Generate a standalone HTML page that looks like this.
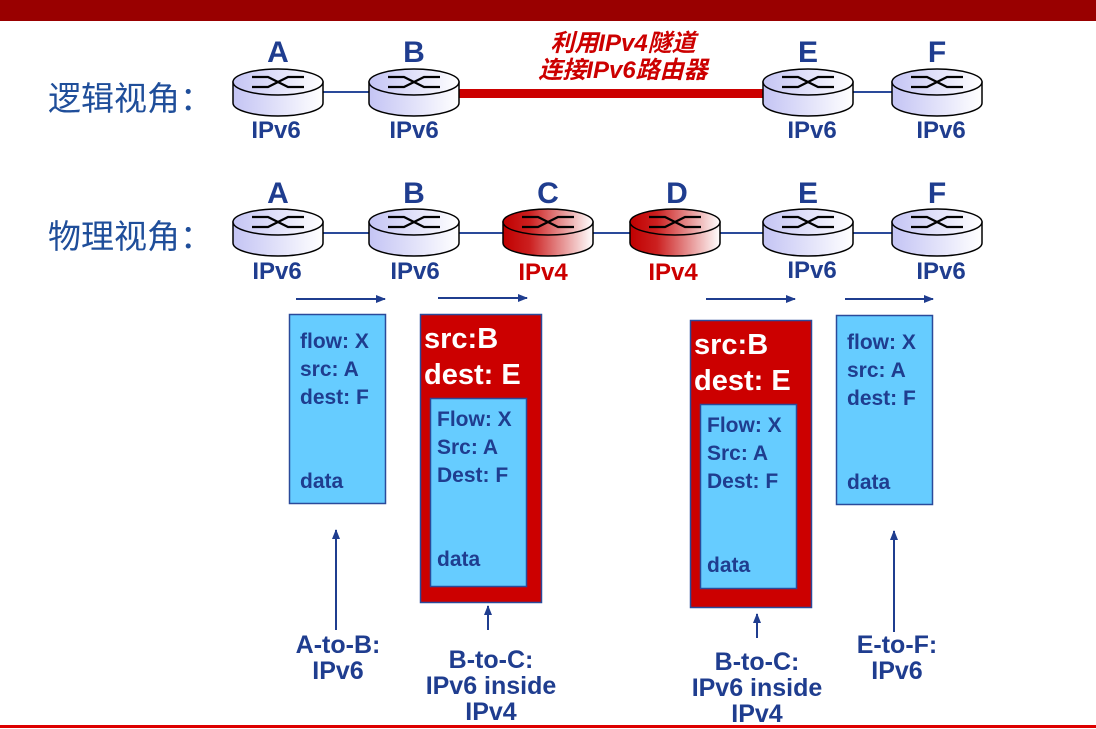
<!DOCTYPE html>
<html><head><meta charset="utf-8"><style>
html,body{margin:0;padding:0;background:#fff}
svg{display:block}
text{font-family:"Liberation Sans","Noto Sans CJK SC",sans-serif;font-weight:bold}
</style></head><body>
<svg width="1096" height="729" viewBox="0 0 1096 729" xmlns="http://www.w3.org/2000/svg">
<defs>
<linearGradient id="gb" x1="0" x2="1" y1="0" y2="0"><stop offset="0" stop-color="#c4c4f4"/><stop offset="1" stop-color="#ffffff"/></linearGradient>
<linearGradient id="gr" x1="0" x2="1" y1="0" y2="0"><stop offset="0" stop-color="#c00000"/><stop offset="0.3" stop-color="#cc2020"/><stop offset="1" stop-color="#ffffff"/></linearGradient>
<g id="xc" fill="none" stroke="#000" stroke-width="2.2"><path d="M-26,-5 H-10 L10,5 H26 M-26,5 H-10 L10,-5 H26"/></g>
<g id="rb"><path d="M-45,0 V21 A45 13 0 0 0 45,21 V0 Z" fill="url(#gb)" stroke="#000" stroke-width="1.5"/><ellipse cx="0" cy="0" rx="45" ry="13" fill="url(#gb)" stroke="#000" stroke-width="1.5"/><use href="#xc"/></g>
<g id="rr"><path d="M-45,0 V21 A45 13 0 0 0 45,21 V0 Z" fill="url(#gr)" stroke="#000" stroke-width="1.5"/><ellipse cx="0" cy="0" rx="45" ry="13" fill="url(#gr)" stroke="#000" stroke-width="1.5"/><use href="#xc"/></g>
<marker id="ah" markerWidth="10" markerHeight="8" refX="9" refY="4" orient="auto" markerUnits="userSpaceOnUse"><path d="M0,0 L10,4 L0,8 Z" fill="#1f3d8f"/></marker>
</defs>
<rect x="0" y="0" width="1096" height="21" fill="#990000"/>
<rect x="0" y="725" width="1096" height="3" fill="#dd0000"/>

<text x="48" y="110" font-size="33" fill="#1f4e9a" style="font-weight:normal">逻辑视角：</text>
<text x="48" y="248" font-size="33" fill="#1f4e9a" style="font-weight:normal">物理视角：</text>

<line x1="323" y1="92" x2="369" y2="92" stroke="#2a4a9a" stroke-width="2"/>
<rect x="459" y="89" width="305" height="9" fill="#cc0000"/>
<line x1="853" y1="92" x2="892" y2="92" stroke="#2a4a9a" stroke-width="2"/>
<use href="#rb" x="278" y="82"/>
<use href="#rb" x="414" y="82"/>
<use href="#rb" x="808" y="82"/>
<use href="#rb" x="937" y="82"/>
<g fill="#1f3d8f" font-size="30" text-anchor="middle">
<text x="278" y="62">A</text><text x="414" y="62">B</text><text x="808" y="62">E</text><text x="937" y="62">F</text>
</g>
<g fill="#1f3d8f" font-size="24" text-anchor="middle">
<text x="276" y="138">IPv6</text><text x="414" y="138">IPv6</text><text x="812" y="138">IPv6</text><text x="941" y="138">IPv6</text>
</g>
<g fill="#cc0000" font-size="24" text-anchor="middle" font-style="italic">
<text x="623" y="51">利用IPv4隧道</text><text x="623" y="78">连接IPv6路由器</text>
</g>

<g stroke="#2a4a9a" stroke-width="2">
<line x1="323" y1="233" x2="369" y2="233"/><line x1="459" y1="233" x2="503" y2="233"/>
<line x1="593" y1="233" x2="630" y2="233"/><line x1="720" y1="233" x2="763" y2="233"/>
<line x1="853" y1="233" x2="892" y2="233"/>
</g>
<use href="#rb" x="278" y="222"/>
<use href="#rb" x="414" y="222"/>
<use href="#rr" x="548" y="222"/>
<use href="#rr" x="675" y="222"/>
<use href="#rb" x="808" y="222"/>
<use href="#rb" x="937" y="222"/>
<g fill="#1f3d8f" font-size="30" text-anchor="middle">
<text x="278" y="203">A</text><text x="414" y="203">B</text><text x="548" y="203">C</text><text x="677" y="203">D</text><text x="808" y="203">E</text><text x="937" y="203">F</text>
</g>
<g font-size="24" text-anchor="middle">
<text x="277" y="279" fill="#1f3d8f">IPv6</text><text x="415" y="279" fill="#1f3d8f">IPv6</text>
<text x="543" y="280" fill="#cc0000">IPv4</text><text x="673" y="280" fill="#cc0000">IPv4</text>
<text x="812" y="278" fill="#1f3d8f">IPv6</text><text x="941" y="279" fill="#1f3d8f">IPv6</text>
</g>

<g stroke="#1f3d8f" stroke-width="2" marker-end="url(#ah)">
<line x1="296" y1="299" x2="385" y2="299"/>
<line x1="438" y1="298" x2="527" y2="298"/>
<line x1="706" y1="299" x2="795" y2="299"/>
<line x1="845" y1="299" x2="933" y2="299"/>
<line x1="336" y1="630" x2="336" y2="530"/>
<line x1="488" y1="630" x2="488" y2="606"/>
<line x1="757" y1="638" x2="757" y2="614"/>
<line x1="894" y1="632" x2="894" y2="531"/>
</g>

<rect x="289.5" y="314.5" width="96" height="189" fill="#66ccff" stroke="#2a4a9a" stroke-width="1.5"/>
<rect x="420.5" y="314.5" width="121" height="288" fill="#cc0000" stroke="#2a4a9a" stroke-width="1.5"/>
<rect x="430.5" y="398.5" width="96" height="188" fill="#66ccff" stroke="#2a4a9a" stroke-width="1.5"/>
<rect x="690.5" y="320.5" width="121" height="287" fill="#cc0000" stroke="#2a4a9a" stroke-width="1.5"/>
<rect x="700.5" y="404.5" width="96" height="184" fill="#66ccff" stroke="#2a4a9a" stroke-width="1.5"/>
<rect x="836.5" y="315.5" width="96" height="189" fill="#66ccff" stroke="#2a4a9a" stroke-width="1.5"/>

<g fill="#1f3d8f" font-size="21">
<text x="300" y="348">flow: X</text><text x="300" y="376">src: A</text><text x="300" y="404">dest: F</text><text x="300" y="488">data</text>
<text x="437" y="426">Flow: X</text><text x="437" y="454">Src: A</text><text x="437" y="482">Dest: F</text><text x="437" y="566">data</text>
<text x="707" y="432">Flow: X</text><text x="707" y="460">Src: A</text><text x="707" y="488">Dest: F</text><text x="707" y="572">data</text>
<text x="847" y="349">flow: X</text><text x="847" y="377">src: A</text><text x="847" y="405">dest: F</text><text x="847" y="489">data</text>
</g>
<g fill="#fff" font-size="29">
<text x="424" y="348">src:B</text><text x="424" y="384">dest: E</text>
<text x="694" y="354">src:B</text><text x="694" y="390">dest: E</text>
</g>

<g fill="#1f3d8f" font-size="25" text-anchor="middle">
<text x="338" y="653">A-to-B:</text><text x="338" y="679">IPv6</text>
<text x="491" y="668">B-to-C:</text><text x="491" y="694">IPv6 inside</text><text x="491" y="720">IPv4</text>
<text x="757" y="670">B-to-C:</text><text x="757" y="696">IPv6 inside</text><text x="757" y="722">IPv4</text>
<text x="897" y="653">E-to-F:</text><text x="897" y="679">IPv6</text>
</g>
</svg>
</body></html>
